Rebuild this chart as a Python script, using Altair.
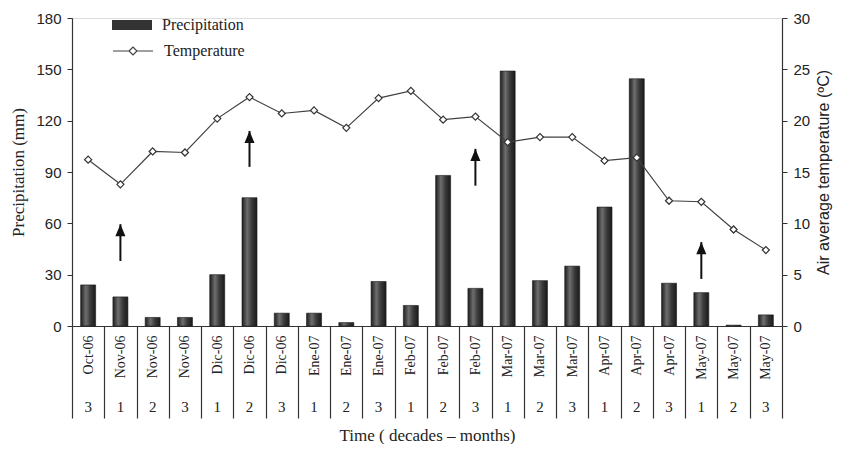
import altair as alt
import pandas as pd

months = ["Oct-06", "Nov-06", "Nov-06", "Nov-06", "Dic-06", "Dic-06", "Dic-06",
          "Ene-07", "Ene-07", "Ene-07", "Feb-07", "Feb-07", "Feb-07",
          "Mar-07", "Mar-07", "Mar-07", "Apr-07", "Apr-07", "Apr-07",
          "May-07", "May-07", "May-07"]
decades = [3, 1, 2, 3, 1, 2, 3, 1, 2, 3, 1, 2, 3, 1, 2, 3, 1, 2, 3, 1, 2, 3]
precip = [24, 17, 5, 5, 30, 75, 7.5, 7.5, 2, 26, 12, 88, 22, 149, 26.5, 35,
          69.5, 144.5, 25, 19.5, 0.5, 6.5]
temp = [16.2, 13.8, 17.0, 16.9, 20.2, 22.3, 20.7, 21.0, 19.3, 22.2, 22.9, 20.1,
        20.4, 17.9, 18.4, 18.4, 16.1, 16.4, 12.2, 12.1, 9.4, 7.4]
arrow_idx = [1, 5, 12, 19]
arrow_base = [38, 93, 82, 27.5]
arrow_tip = [59.5, 114, 103.5, 49]

idx = list(range(len(months)))
df = pd.DataFrame({"i": idx, "month": months, "decade": decades,
                   "precip": precip, "temp": temp,
                   "s1": "Precipitation", "s2": "Temperature"})
arr = pd.DataFrame({"i": arrow_idx, "base": arrow_base, "tip": arrow_tip})

SERIF = "Liberation Serif"
SANS = "Liberation Sans"
INK = "#222222"

month_expr = "[" + ",".join(f"'{m}'" for m in months) + "][datum.value]"
dec_expr = "[" + ",".join(f"'{d}'" for d in decades) + "][datum.value]"

xscale = alt.Scale(type="band", paddingInner=0, paddingOuter=0)

month_axis = alt.Axis(labelExpr=month_expr, labelAngle=-90, labelFont=SERIF,
                      labelFontSize=14, labelColor=INK, labelPadding=-83,
                      labelOverlap=False, tickBand="extent", tickSize=92,
                      tickColor="#333", tickWidth=1.2, domainColor="#333",
                      domainWidth=1.2, title="Time ( decades \u2013 months)",
                      titleFont=SERIF, titleFontSize=17, titleFontWeight="normal",
                      titleColor=INK, titlePadding=9)
dec_axis = alt.Axis(labelExpr=dec_expr, labelAngle=0, labelFont=SERIF,
                    labelFontSize=15, labelColor=INK, labelPadding=73,
                    labelOverlap=False, ticks=False, domain=False, title=None,
                    orient="bottom")

py_scale = alt.Scale(domain=[0, 180], nice=False)
py_axis = alt.Axis(values=[0, 30, 60, 90, 120, 150, 180], grid=False,
                   labelFont=SANS, labelFontSize=15, labelColor=INK,
                   tickSize=5, tickColor="#333", domainColor="#333",
                   domainWidth=1.2, labelPadding=6,
                   title="Precipitation (mm)", titleFont=SERIF,
                   titleFontSize=17, titleFontWeight="normal", titleColor=INK,
                   titlePadding=8)
ty_scale = alt.Scale(domain=[0, 30], nice=False)
ty_axis = alt.Axis(values=[0, 5, 10, 15, 20, 25, 30], grid=False, orient="right",
                   labelFont=SANS, labelFontSize=15, labelColor=INK,
                   tickSize=5, tickColor="#333", domainColor="#333",
                   domainWidth=1.2, labelPadding=6,
                   title="Air average temperature (\u00baC)", titleFont=SANS,
                   titleFontSize=16, titleFontWeight="normal", titleColor=INK,
                   titleAngle=270, titleBaseline="top", titlePadding=6)

grad = alt.Gradient(gradient="linear", x1=0, x2=1, y1=0, y2=0,
                    stops=[alt.GradientStop(offset=0, color="#1e1e1e"),
                           alt.GradientStop(offset=0.35, color="#6e6e6e"),
                           alt.GradientStop(offset=0.65, color="#3a3a3a"),
                           alt.GradientStop(offset=1, color="#1a1a1a")])

bars = alt.Chart(df).mark_bar(size=15, stroke="#1a1a1a", strokeWidth=0.6).encode(
    x=alt.X("i:O", scale=xscale, axis=month_axis),
    y=alt.Y("precip:Q", scale=py_scale, axis=py_axis),
    fill=alt.Fill("s1:N", scale=alt.Scale(range=["#333333"]),
                  condition={"test": "true", "value": grad},
                  legend=alt.Legend(orient="none", legendX=40, legendY=-13,
                                    title=None, padding=0,
                                    symbolType="M-1,-0.25H1V0.25H-1Z",
                                    symbolSize=1600, symbolStrokeWidth=0,
                                    labelFont=SERIF, labelFontSize=16,
                                    labelColor=INK, labelOffset=10)),
)

shafts = alt.Chart(arr).mark_rule(color="#111", strokeWidth=2).encode(
    x=alt.X("i:O", scale=xscale, axis=month_axis),
    y=alt.Y("base:Q", scale=py_scale, axis=py_axis),
    y2="tip:Q",
)
heads = alt.Chart(arr).mark_point(shape="M0,0L-0.42,1L0.42,1Z", filled=True,
                                  color="#111", size=576, opacity=1).encode(
    x=alt.X("i:O", scale=xscale, axis=month_axis),
    y=alt.Y("tip:Q", scale=py_scale, axis=py_axis),
)

line = alt.Chart(df).mark_line(strokeWidth=1.2).encode(
    x=alt.X("i:O", scale=xscale, axis=dec_axis),
    y=alt.Y("temp:Q", scale=ty_scale, axis=ty_axis),
    stroke=alt.Stroke("s2:N", scale=alt.Scale(range=["#404040"]),
                      legend=alt.Legend(orient="none", legendX=40, legendY=12,
                                        title=None, padding=0,
                                        symbolType="M-1,0H-0.2M0.2,0H1M-0.2,0L0,-0.2L0.2,0L0,0.2Z",
                                        symbolSize=1600, symbolStrokeWidth=1.2,
                                        labelFont=SERIF, labelFontSize=16,
                                        labelColor=INK, labelOffset=10)),
)
points = alt.Chart(df).mark_point(shape="diamond", filled=True, fill="white",
                                  stroke="#333", strokeWidth=1.2, size=50,
                                  opacity=1).encode(
    x=alt.X("i:O", scale=xscale, axis=dec_axis),
    y=alt.Y("temp:Q", scale=ty_scale, axis=ty_axis),
)

left = alt.layer(bars, shafts, heads)
right = alt.layer(line, points)

chart = alt.layer(left, right).resolve_scale(
    x="independent", y="independent"
).properties(
    width=710, height=308,
    autosize=alt.AutoSizeParams(type="none"),
    padding={"left": 64, "top": 10, "right": 54, "bottom": 118},
).configure_view(stroke=None).configure(background="white")

chart.save("out.html", embed_options={"renderer": "svg", "actions": False})
